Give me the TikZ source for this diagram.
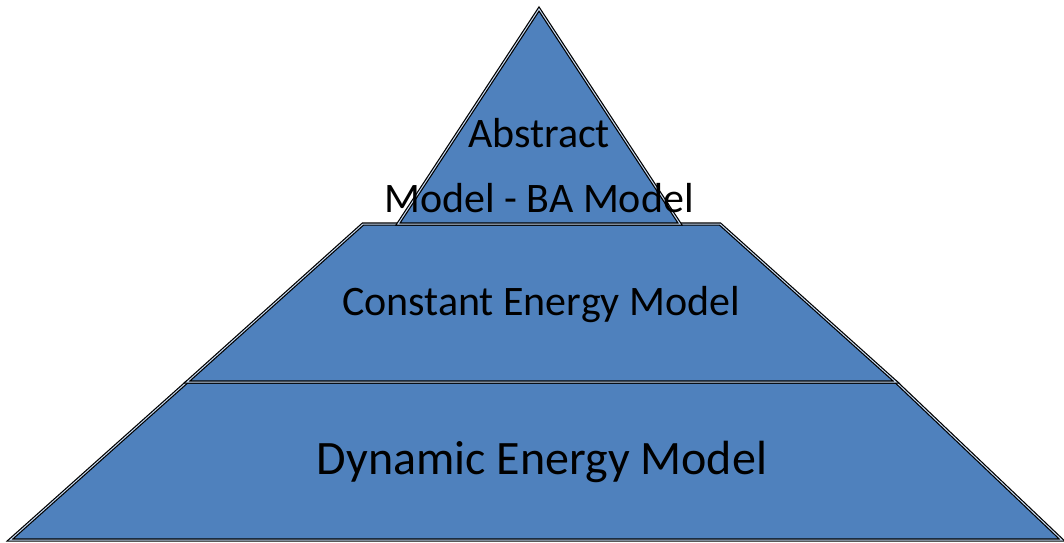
\documentclass[tikz,border=0pt]{standalone}
\usepackage{fontspec}
\setmainfont{Carlito}
\usepackage{xcolor}
\definecolor{tierblue}{HTML}{4F81BD}
\definecolor{rimblue}{HTML}{C6D9F1}

\begin{document}
\begin{tikzpicture}[x=1pt,y=-1pt,
    tier/.style={fill=tierblue,draw=black,line width=1.2pt,double=rimblue,double distance=1pt,line join=miter},
    lbl/.style={anchor=base,inner sep=0pt,font=\fontsize{42}{46}\selectfont}]
    \useasboundingbox (0,0) rectangle (1064,542);
    % tiers, bottom to top
    \draw[tier] (187,382)--(896,382)--(1062,540)--(10,540)--cycle;
    \draw[tier] (363,224)--(720,224)--(896,382)--(187,382)--cycle;
    \draw[tier] (539,9)--(680,224)--(398,224)--cycle;

    \node[lbl] (abstr) at (539,147) {Abstract};
    \node[lbl] (bamodel) at (539,212) {Model - BA Model};
    \node[lbl] (constmodel) at (541,315) {Constant Energy Model};
    \node[lbl,font=\fontsize{48}{52}\selectfont] (dynmodel) at (542,474) {Dynamic Energy Model};
\end{tikzpicture}
\end{document}
